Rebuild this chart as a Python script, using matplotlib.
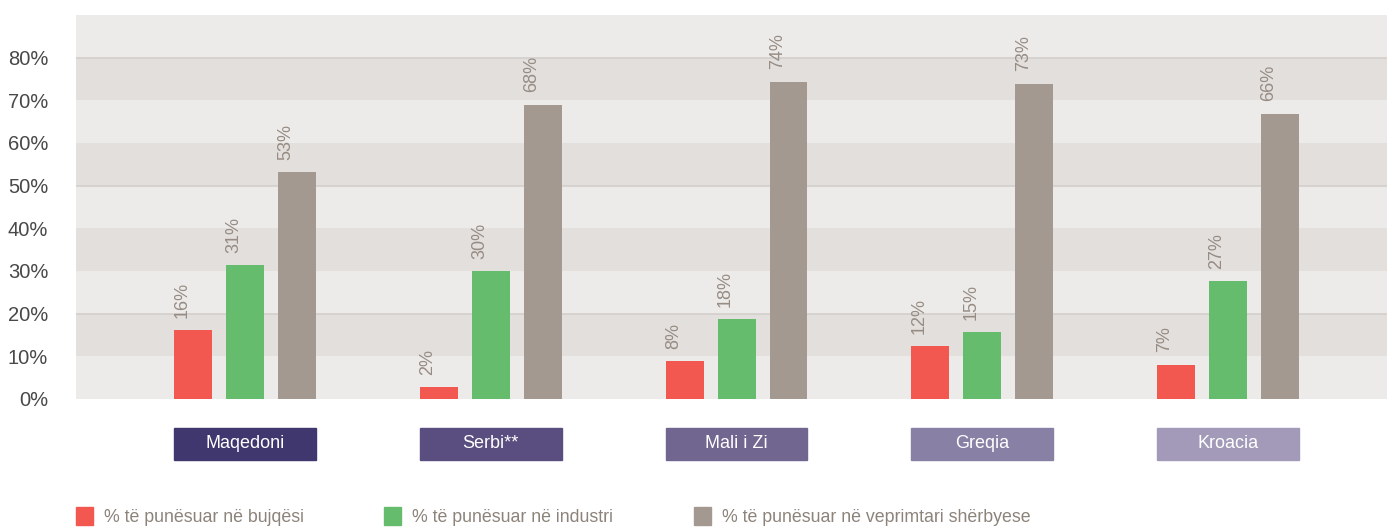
import numpy as np
import matplotlib.pyplot as plt
from matplotlib.patches import Rectangle
from matplotlib.transforms import blended_transform_factory

countries = ["Maqedoni", "Serbi**", "Mali i Zi", "Greqia", "Kroacia"]
series_names = [
    "% të punësuar në bujqësi",
    "% të punësuar në industri",
    "% të punësuar në veprimtari shërbyese",
]
agriculture = [16.1, 2.8, 8.9, 12.4, 8.0]
industry = [31.3, 29.9, 18.7, 15.7, 27.6]
services = [53.1, 69.0, 74.4, 73.9, 66.9]
agriculture_labels = ["16%", "2%", "8%", "12%", "7%"]
industry_labels = ["31%", "30%", "18%", "15%", "27%"]
services_labels = ["53%", "68%", "74%", "73%", "66%"]
yticks = [0, 10, 20, 30, 40, 50, 60, 70, 80]

colors = ["#F2584F", "#66BC6D", "#A39990"]
box_colors = ["#41376F", "#5A4E80", "#706690", "#8880A5", "#A29AB8"]
font = ["Liberation Sans Narrow", "Liberation Sans", "DejaVu Sans"]
plt.rcParams["font.family"] = font

W, H = 1387, 527
fig = plt.figure(figsize=(W / 100, H / 100), dpi=100)
ax = fig.add_axes([76 / W, (H - 399) / H, (W - 76) / W, 384 / H])

# striped background
ax.set_facecolor("#EDEBE9")
for lo in range(10, 90, 20):
    ax.axhspan(lo, lo + 10, color="#E3DFDC", zorder=0, lw=0)
for g in [20, 50, 80]:
    ax.axhline(g, color="#D3CFCC", lw=1.2, zorder=0.5)

x = np.arange(len(countries))
step = 0.2114
width = 0.1545
all_vals = [agriculture, industry, services]
all_labels = [agriculture_labels, industry_labels, services_labels]
for i, (vals, labs) in enumerate(zip(all_vals, all_labels)):
    pos = x + (i - 1) * step
    ax.bar(pos, vals, width=width, color=colors[i], zorder=2)
    for px, v, lab in zip(pos, vals, labs):
        ax.annotate(lab, (px, v), xytext=(-8, 9), textcoords="offset points",
                    rotation=90, ha="center", va="bottom", fontsize=13,
                    color="#968C84")

ax.set_xlim(-0.687, 4.646)
ax.set_ylim(0, 90)
ax.set_xticks([])
ax.set_yticks(yticks)
ax.set_yticklabels([f"{t}%" for t in yticks])
ax.tick_params(axis="y", length=0, pad=20, labelsize=14.5, labelcolor="#484848")
for s in ax.spines.values():
    s.set_visible(False)

# country boxes under the groups
trans = blended_transform_factory(ax.transData, ax.transAxes)
half = step + width / 2
for xi, name, bc in zip(x, countries, box_colors):
    ax.add_patch(Rectangle((xi - half, -0.159), 2 * half, 0.0835,
                           transform=trans, color=bc, clip_on=False))
    ax.text(xi, -0.117, name, transform=trans, ha="center", va="center",
            color="white", fontsize=13)

# legend
leg_x = [76, 384, 694]
for lx, name, c in zip(leg_x, series_names, colors):
    fig.patches.append(Rectangle((lx / W, (H - 525) / H), 17 / W, 18 / H,
                                 transform=fig.transFigure, color=c))
    fig.text((lx + 28) / W, (H - 517) / H, name, ha="left", va="center",
             fontsize=12.8, color="#8C837B")

fig.savefig("out.png", dpi=100)
